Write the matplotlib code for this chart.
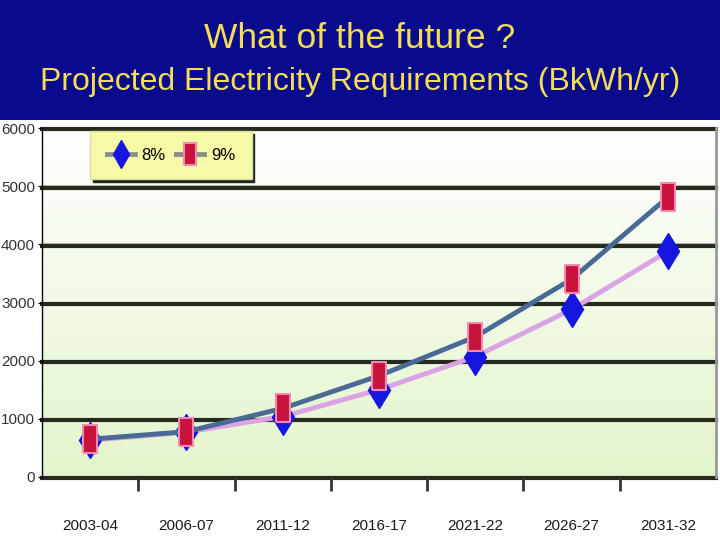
import numpy as np
import matplotlib.pyplot as plt
from matplotlib.patches import Rectangle

# data
years = ["2003-04", "2006-07", "2011-12", "2016-17", "2021-22", "2026-27", "2031-32"]
pct8 = [630, 770, 1040, 1500, 2070, 2880, 3880]
pct9 = [650, 780, 1180, 1740, 2410, 3400, 4810]
yticks = [0, 1000, 2000, 3000, 4000, 5000, 6000]

tickfont = "Liberation Sans"

fig = plt.figure(figsize=(7.2, 5.4), dpi=100)
fig.patch.set_facecolor("white")

# blue title band
fig.patches.append(Rectangle((0, 1 - 120 / 540), 1, 120 / 540, transform=fig.transFigure,
                             facecolor="#0a0a8c", edgecolor="none", zorder=0))
fig.text(0.5, 1 - 38 / 540, "What of the future ?", ha="center", va="center",
         color="#f3dd55", fontsize=25.5, family="Liberation Sans")
fig.text(0.5, 1 - 82 / 540, "Projected Electricity Requirements (BkWh/yr)", ha="center",
         va="center", color="#f3dd55", fontsize=23, family="Liberation Sans")

ax = fig.add_axes([42 / 720, 1 - 477 / 540, 674 / 720, (477 - 128) / 540])
x = np.arange(len(years))

# gradient background: white at top to pale green at bottom
grad = np.linspace(0, 1, 256).reshape(-1, 1)
top = np.array([1.0, 1.0, 1.0])
bot = np.array([0.89, 0.96, 0.80])
img = top * (1 - grad[..., None]) + bot * grad[..., None]
ax.imshow(img, extent=[0, 1, 0, 1], transform=ax.transAxes, aspect="auto", zorder=0)

for v in yticks:
    ax.axhline(v, color="#b8b8b0", lw=2, zorder=1, clip_on=False)
    ax.axhline(v - 25, color="#262a1e", lw=3, zorder=1, clip_on=False)

rect = [(-0.5, -1), (0.5, -1), (0.5, 1), (-0.5, 1), (-0.5, -1)]
ax.plot(x, pct8, color="#d9a3e6", lw=3.5, marker="d", ms=18, mfc="#1616e0",
        mec="#1616e0", label="8%", zorder=3)
ax.plot(x, pct9, color="#4a6a96", lw=3.5, marker=rect, ms=20, mfc="#c8143c",
        mec="#f08ab0", mew=1.5, label="9%", zorder=4)

ax.set_xlim(-0.5, len(years) - 0.5)
ax.set_ylim(0, 6000)
ax.set_yticks(yticks)
ax.set_yticklabels([str(v) for v in yticks], family=tickfont, fontsize=11, color="#333333")
ax.set_xticks(x)
ax.set_xticklabels(years, family=tickfont, fontsize=11, color="#1a1a1a")
ax.set_xticks(x[:-1] + 0.5, minor=True)
ax.tick_params(axis="x", which="major", length=0, pad=30)
ax.tick_params(axis="x", which="minor", length=10, width=2, color="#333333")
ax.tick_params(axis="y", length=3, pad=2)

ax.spines["top"].set_visible(False)
ax.spines["left"].set_color("black")
ax.spines["left"].set_linewidth(1)
ax.spines["right"].set_color("#999999")
ax.spines["right"].set_linewidth(2)
ax.spines["bottom"].set_visible(False)

leg = ax.legend(loc="upper left", bbox_to_anchor=(48 / 674, 1 - 3 / 349), ncol=2,
                prop={"family": tickfont, "size": 12}, frameon=True, fancybox=False,
                shadow={"color": "#1e2a1e", "alpha": 1}, handlelength=1.7,
                columnspacing=0.6, handletextpad=0.4, borderpad=1.0, borderaxespad=0,
                markerscale=0.8)
leg.get_frame().set_facecolor("#f6f9a6")
leg.get_frame().set_edgecolor("#d8e0a0")
leg.get_frame().set_alpha(1)
for h in leg.get_lines():
    h.set_color("#8a9088")

fig.savefig("out.png", dpi=100)
